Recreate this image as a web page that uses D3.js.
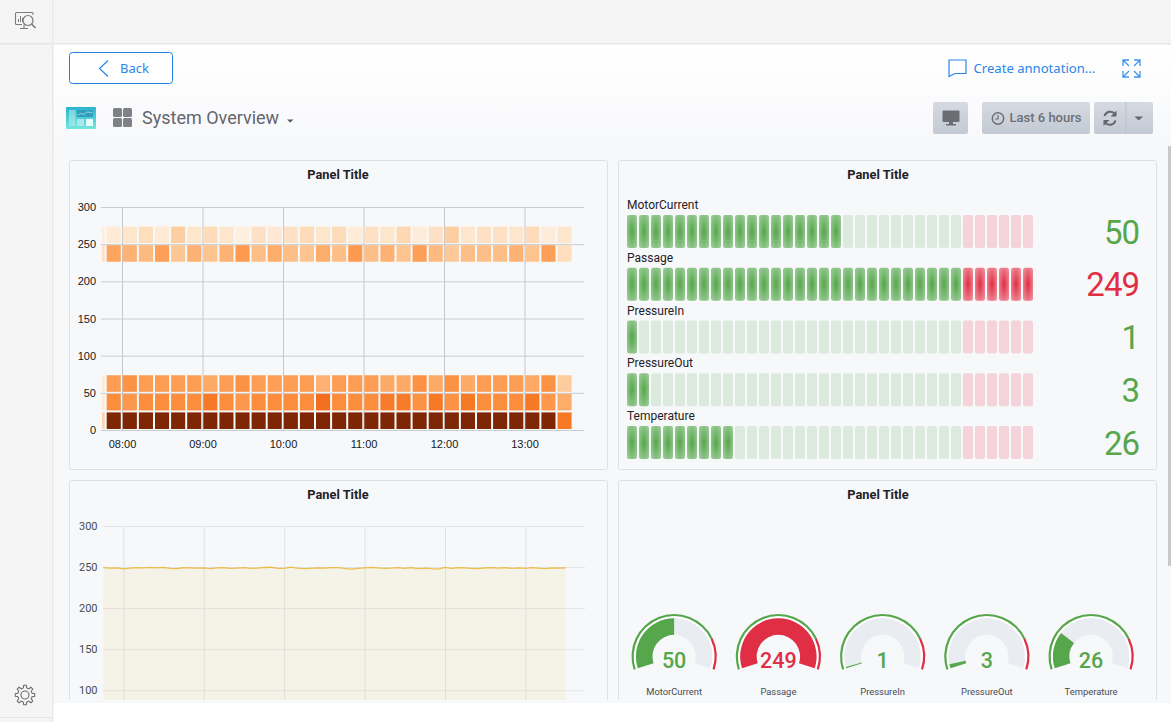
<!DOCTYPE html>
<html>
<head>
<meta charset="utf-8">
<title>System Overview</title>
<script src="https://cdn.jsdelivr.net/npm/d3@7"></script>
<style>
  html, body { margin: 0; padding: 0; background: #fff; overflow: hidden; }
  svg { display: block; }
  text { font-family: Roboto, sans-serif; }
  .heat .tick text { font-family: "Liberation Sans", Arial, sans-serif; font-size: 11px; fill: #15171c; }
  .line .tick text { font-size: 11px; fill: #464c54; }
  .domain { display: none; }
</style>
</head>
<body>
<div id="viz"></div>
<script>
// heatmap: colour strength (0-100) per 12 min bucket, the first bucket is cut by the axis
const heatBuckets = [0, 25, 50, 225, 250];
const heat0 = [22, 100, 100, 100, 100, 100, 100, 100, 100, 100, 100, 100, 100, 100, 100, 100, 100, 100, 100, 100, 100, 100, 100, 100, 100, 100, 100, 100, 100, 57];
const heat25 = [8, 50, 46, 50, 50, 50, 50, 57, 50, 46, 50, 50, 50, 50, 60, 50, 50, 50, 56, 56, 48, 57, 48, 57, 50, 50, 50, 57, 46, 38];
const heat50 = [8, 44, 48, 44, 44, 44, 44, 39, 44, 48, 44, 43, 44, 44, 36, 44, 44, 44, 39, 39, 48, 39, 48, 39, 44, 44, 44, 39, 48, 26];
const heat225 = [16, 41, 36, 33, 43, 28, 36, 29, 36, 45, 31, 38, 31, 29, 38, 31, 45, 31, 36, 29, 43, 33, 27, 31, 31, 31, 36, 29, 43, 17];
const heat250 = [6, 9, 12, 17, 9, 25, 12, 18, 12, 5, 15, 10, 15, 18, 12, 18, 8, 15, 12, 20, 7, 15, 25, 12, 15, 15, 12, 18, 7, 12];
const heatTicks = [0, 50, 100, 150, 200, 250, 300];

// bar gauges and gauges share these
const sensors = ["MotorCurrent", "Passage", "PressureIn", "PressureOut", "Temperature"];
const sensorValues = [50, 249, 1, 3, 26];
const gaugeMax = 100;
const redFrom = 80;
const segmentCount = 34;

// Passage over time, one value per 5 min from 07:45
const passage = [
  249.2, 248.6, 248.9, 247.8, 248.7, 249.2, 248.9, 249.6, 249.0, 249.7, 248.4, 248.0,
  249.4, 249.1, 248.6, 248.9, 248.2, 248.9, 249.2, 248.4, 248.8, 249.2, 248.5, 248.8,
  249.5, 249.8, 248.4, 248.5, 250.0, 248.6, 248.1, 248.5, 248.9, 248.6, 249.2, 249.3,
  248.4, 247.6, 248.3, 248.9, 249.6, 248.9, 248.4, 248.8, 249.2, 248.4, 249.2, 248.0,
  248.7, 248.0, 247.6, 249.5, 248.4, 249.2, 248.9, 248.5, 248.1, 248.9, 249.4, 248.8,
  249.2, 248.4, 248.9, 248.5, 249.4, 248.6, 248.2, 248.9, 248.7, 249.1
];
const lineTicks = [100, 150, 200, 250, 300];

const green = "#56a64b", red = "#e02f44";

const svg = d3.select("#viz").append("svg").attr("width", 1171).attr("height", 722);
const defs = svg.append("defs");

function hhmm(h, m, s) { return new Date(2021, 0, 15, h, m, s || 0); }

function radial(id, mid, edge) {
  const g = defs.append("radialGradient").attr("id", id).attr("r", "70%");
  g.append("stop").attr("offset", "0%").attr("stop-color", mid);
  g.append("stop").attr("offset", "100%").attr("stop-color", edge);
}
radial("litGreen", "#56a64b", "#a3d0a0");
radial("litRed", "#e02f44", "#f09aa5");

const fade = defs.append("linearGradient").attr("id", "pageFade").attr("x2", 0).attr("y2", 1);
fade.append("stop").attr("offset", "0%").attr("stop-color", "#ffffff");
fade.append("stop").attr("offset", "100%").attr("stop-color", "#f7f8fa");

const btn = defs.append("linearGradient").attr("id", "btnFill").attr("x2", 0).attr("y2", 1);
btn.append("stop").attr("offset", "0%").attr("stop-color", "#d6dae1");
btn.append("stop").attr("offset", "100%").attr("stop-color", "#c3cad3");

const teal = defs.append("linearGradient").attr("id", "tealFill").attr("x2", 0).attr("y2", 1);
teal.append("stop").attr("offset", "0%").attr("stop-color", "#2cb4cc");
teal.append("stop").attr("offset", "100%").attr("stop-color", "#74e6df");

// page frame
svg.append("rect").attr("x", 53).attr("y", 44).attr("width", 1118).attr("height", 106).attr("fill", "url(#pageFade)");
svg.append("rect").attr("x", 53).attr("y", 150).attr("width", 1118).attr("height", 553).attr("fill", "#f7f8fa");
svg.append("rect").attr("width", 1171).attr("height", 43).attr("fill", "#f5f5f5");
svg.append("rect").attr("width", 52).attr("height", 722).attr("fill", "#f5f5f5");
svg.append("rect").attr("y", 43).attr("width", 1171).attr("height", 1.5).attr("fill", "#e6e6e6");
svg.append("rect").attr("x", 52).attr("width", 1.5).attr("height", 722).attr("fill", "#e9e9e9");
svg.append("rect").attr("y", 717).attr("width", 52).attr("height", 1).attr("fill", "#e6e6e6");
svg.append("rect").attr("x", 1168).attr("y", 146).attr("width", 3).attr("height", 420).attr("fill", "#c9c9c9");

drawChrome();

// panels, the titles of the right column sit left of the panel centre
const panels = [
  { x: 69.5, y: 160.5, w: 538, h: 309, title: 338 },
  { x: 618.5, y: 160.5, w: 538, h: 309, title: 878 },
  { x: 69.5, y: 480.5, w: 538, h: 240, title: 338 },
  { x: 618.5, y: 480.5, w: 538, h: 240, title: 878 }
];
defs.append("clipPath").attr("id", "pageClip").append("rect").attr("x", 53).attr("y", 0).attr("width", 1118).attr("height", 700);
const panelLayer = svg.append("g").attr("clip-path", "url(#pageClip)");
panels.forEach(p => {
  panelLayer.append("rect").attr("x", p.x).attr("y", p.y).attr("width", p.w).attr("height", p.h)
    .attr("rx", 2).attr("fill", "#f7f8fa").attr("stroke", "#dde0e8");
  panelLayer.append("text").attr("x", p.title).attr("y", p.y + 18)
    .attr("text-anchor", "middle").attr("font-size", 12.8).attr("font-weight", 700).attr("fill", "#1f2126")
    .text("Panel Title");
});

drawHeatmap();
drawBarGauges();
drawLine();
drawGauges();

function gridStyle(axis, colour) {
  axis.selectAll(".tick line").attr("stroke", colour);
}

function drawHeatmap() {
  const x = d3.scaleTime().domain([hhmm(7, 45, 50), hhmm(13, 44, 20)]).range([103, 584]);
  const y = d3.scaleLinear().domain([0, 300]).range([430, 207]);
  const colour = d3.scaleSequential(d3.interpolateOranges).domain([0, 100]);
  const g = svg.append("g").attr("class", "heat");

  const gy = g.append("g").attr("transform", "translate(101,0)")
    .call(d3.axisLeft(y).tickValues(heatTicks).tickSize(-483).tickPadding(5));
  gridStyle(gy, "#c9ccd2");

  const gx = g.append("g").attr("transform", "translate(0,430)")
    .call(d3.axisBottom(x).ticks(d3.timeHour.every(1)).tickFormat(d3.timeFormat("%H:%M")).tickSize(-223).tickPadding(10));
  gx.selectAll(".tick line").attr("stroke", "#c4c7cd");

  defs.append("clipPath").attr("id", "heatClip").append("rect").attr("x", 102).attr("y", 200).attr("width", 482).attr("height", 235);

  const rows = [heat0, heat25, heat50, heat225, heat250];
  const cells = [];
  rows.forEach((row, r) => row.forEach((v, k) => {
    cells.push({ bucket: heatBuckets[r], t: d3.timeMinute.offset(hhmm(7, 35, 50), k * 12), v: v });
  }));

  g.append("g").attr("clip-path", "url(#heatClip)").selectAll("rect").data(cells).join("rect")
    .attr("x", d => x(d.t) + 1)
    .attr("width", d => x(d3.timeMinute.offset(d.t, 12)) - x(d.t) - 2)
    .attr("y", d => y(d.bucket + 25) + 1)
    .attr("height", d => y(d.bucket) - y(d.bucket + 25) - 2)
    .attr("fill", d => colour(d.v));
}

function drawBarGauges() {
  const seg = d3.scaleBand().domain(d3.range(segmentCount)).range([627, 1033]).paddingInner(2 / 12);
  const row = d3.scaleBand().domain(sensors).range([215, 215 + 52.75 * 5]);
  const g = svg.append("g");

  sensors.forEach((name, i) => {
    const top = row(name), v = sensorValues[i];
    g.append("text").attr("x", 627).attr("y", top - 6).attr("font-size", 12).attr("fill", "#1f2126").text(name);
    g.selectAll(null).data(d3.range(segmentCount)).join("rect")
      .attr("x", d => seg(d)).attr("y", top)
      .attr("width", seg.bandwidth()).attr("height", 33).attr("rx", 2)
      .attr("fill", d => {
        const level = d / segmentCount * gaugeMax;
        const isRed = level >= redFrom;
        if (level <= v) return isRed ? "url(#litRed)" : "url(#litGreen)";
        return isRed ? "#f4d3da" : "#dceade";
      });
    g.append("text").attr("x", 1139).attr("y", top + 28.5).attr("text-anchor", "end")
      .attr("font-size", 33).attr("letter-spacing", -1).attr("fill", v >= redFrom ? red : green).text(v);
  });
}

function drawLine() {
  const x = d3.scaleTime().domain([hhmm(7, 44, 50), hhmm(13, 44, 30)]).range([103, 585]);
  const y = d3.scaleLinear().domain([0, 300]).range([772.4, 526]);
  const t = (d, i) => d3.timeMinute.offset(hhmm(7, 45), i * 5);
  const g = svg.append("g").attr("class", "line").attr("clip-path", "url(#pageClip)");

  const gy = g.append("g").attr("transform", "translate(103,0)")
    .call(d3.axisLeft(y).tickValues(lineTicks).tickSize(-482).tickPadding(5.5));
  gridStyle(gy, "#e2e4e8");

  const gx = g.append("g").attr("transform", "translate(0,700)")
    .call(d3.axisBottom(x).ticks(d3.timeHour.every(1)).tickFormat("").tickSize(-174));
  gridStyle(gx, "#e0e2e6");

  g.append("path").datum(passage)
    .attr("fill", "#eab839").attr("fill-opacity", 0.09)
    .attr("d", d3.area().x((d, i) => x(t(d, i))).y0(y(0)).y1(d => y(d)));
  g.append("path").datum(passage)
    .attr("fill", "none").attr("stroke", "#eab839").attr("stroke-opacity", 0.9).attr("stroke-width", 1.3)
    .attr("d", d3.line().x((d, i) => x(t(d, i))).y(d => y(d)));
}

function drawGauges() {
  const cx = d3.scaleBand().domain(sensors).range([622, 1143.2]);
  const sweep = d3.scaleLinear().domain([0, gaugeMax]).range([-0.6 * Math.PI, 0.6 * Math.PI]).clamp(true);
  const cy = 656.5;
  const arc = (r0, r1, a0, a1) => d3.arc()({ innerRadius: r0, outerRadius: r1, startAngle: a0, endAngle: a1 });

  sensors.forEach((name, i) => {
    const v = sensorValues[i];
    const col = v >= redFrom ? red : green;
    const g = svg.append("g").attr("transform", `translate(${cx(name) + cx.bandwidth() / 2},${cy})`);
    g.append("path").attr("d", arc(38.2, 40.6, sweep(0), sweep(gaugeMax))).attr("fill", "#fff");
    g.append("path").attr("d", arc(21.7, 38.2, sweep(0), sweep(gaugeMax))).attr("fill", "#e9edf2");
    g.append("path").attr("d", arc(40.4, 42.6, sweep(0), sweep(redFrom))).attr("fill", green);
    g.append("path").attr("d", arc(40.4, 42.6, sweep(redFrom), sweep(gaugeMax))).attr("fill", red);
    g.append("path").attr("d", arc(21.7, 38.2, sweep(0), sweep(v))).attr("fill", col);
    g.append("text").attr("y", 11.8).attr("text-anchor", "middle").attr("font-size", 21.5)
      .attr("font-weight", 500).attr("fill", col).text(v);
    g.append("text").attr("y", 38.5).attr("text-anchor", "middle").attr("font-size", 9.4)
      .attr("fill", "#464c54").text(name);
  });
}

function drawChrome() {
  const blue = "#2a86e8";
  const line = (sel, colour, w) => sel.attr("fill", "none").attr("stroke", colour).attr("stroke-width", w || 1);

  // sidebar icons
  const top = svg.append("g");
  line(top.append("path").attr("d", "M22 24.5H16.5a1 1 0 0 1-1-1V13.5a1 1 0 0 1 1-1H32a1 1 0 0 1 1 1v1.5M24 24.5v3.5M20 28.5h8"), "#7b7b7b", 1.1);
  line(top.append("path").attr("d", "M18.5 22v-3M20.5 22v-6M22.5 22v-4"), "#7b7b7b", 1);
  line(top.append("circle").attr("cx", 28).attr("cy", 20.5).attr("r", 5), "#7b7b7b", 1.2);
  line(top.append("path").attr("d", "M31.8 24.2L35.5 28"), "#7b7b7b", 1.6);

  const teeth = d3.range(8).flatMap(i => {
    const a = i / 8 * 2 * Math.PI;
    return [-0.24, -0.13, 0.13, 0.24].map((o, j) => {
      const r = (j === 0 || j === 3) ? 7.3 : 9.8;
      return [25 + r * Math.sin(a + o), 695 - r * Math.cos(a + o)];
    });
  });
  line(svg.append("path").attr("d", d3.line().curve(d3.curveLinearClosed)(teeth)), "#6e6e6e", 1.1);
  line(svg.append("circle").attr("cx", 25).attr("cy", 695).attr("r", 4), "#6e6e6e", 1.1);

  // back button and links
  svg.append("rect").attr("x", 69.5).attr("y", 52.5).attr("width", 103).attr("height", 31).attr("rx", 3)
    .attr("fill", "#fff").attr("stroke", "#1f80e6");
  line(svg.append("path").attr("d", "M108 60.5L99.5 68.5L108 76.5"), blue, 1.2);
  svg.append("text").attr("x", 120).attr("y", 73).attr("font-size", 13).attr("fill", blue)
    .style("font-family", "'Noto Sans'").text("Back");
  svg.append("text").attr("x", 973.5).attr("y", 73).attr("font-size", 13.1).attr("fill", blue)
    .style("font-family", "'Noto Sans'").text("Create annotation...");
  line(svg.append("path").attr("d", "M949 60H966V73.5H955L949 76.5Z"), blue, 1.2);
  line(svg.append("path").attr("d", "M1123 66V60H1129M1134 60H1140V66M1123 71V77H1129M1134 77H1140V71M1123 60L1129 66M1140 60L1134 66M1123 77L1129 71M1140 77L1134 71"), "#3f94ec", 1.3);

  // dashboard title
  svg.append("rect").attr("x", 66).attr("y", 107).attr("width", 30).attr("height", 22).attr("rx", 1).attr("fill", "url(#tealFill)");
  svg.append("rect").attr("x", 69).attr("y", 110).attr("width", 6.5).attr("height", 16).attr("fill", "#c5f1ef").attr("fill-opacity", 0.5);
  svg.append("rect").attr("x", 77).attr("y", 110).attr("width", 16).attr("height", 7).attr("fill", "#2f9fbd");
  line(svg.append("path").attr("d", "M78 115L81 113.5L84 114.5L87 112L92 112.5"), "#b7eef0", 0.7);
  svg.append("rect").attr("x", 77).attr("y", 119).attr("width", 7).attr("height", 7).attr("fill", "#a9e7ea");
  svg.append("rect").attr("x", 86).attr("y", 119).attr("width", 7).attr("height", 7).attr("fill", "#e6fbfa");
  [[113, 108], [123, 108], [113, 118], [123, 118]].forEach(p => {
    svg.append("rect").attr("x", p[0]).attr("y", p[1]).attr("width", 9).attr("height", 9).attr("rx", 1.5).attr("fill", "#808186");
  });
  svg.append("text").attr("x", 142).attr("y", 124).attr("font-size", 18).attr("fill", "#63666d").text("System Overview");
  svg.append("path").attr("d", "M287 119.5H293.5L290.2 122.5Z").attr("fill", "#55585e");

  // toolbar buttons
  [[933, 35], [982, 108], [1094, 59]].forEach(b => {
    svg.append("rect").attr("x", b[0]).attr("y", 102).attr("width", b[1]).attr("height", 32).attr("rx", 2).attr("fill", "url(#btnFill)");
  });
  svg.append("rect").attr("x", 1125.5).attr("y", 102).attr("width", 1).attr("height", 32).attr("fill", "#b8bfc8");
  svg.append("rect").attr("x", 942.5).attr("y", 110.5).attr("width", 17).attr("height", 11.5).attr("rx", 1).attr("fill", "#6a6e74");
  svg.append("path").attr("d", "M949 122H953V124H956V125.5H946V124H949Z").attr("fill", "#6a6e74");
  line(svg.append("circle").attr("cx", 998).attr("cy", 118.5).attr("r", 5.7), "#6b6f76", 1.5);
  line(svg.append("path").attr("d", "M998 115V119H995"), "#6b6f76", 1.2);
  svg.append("text").attr("x", 1009.5).attr("y", 122).attr("font-size", 13).attr("font-weight", 500).attr("fill", "#6c7078").text("Last 6 hours");
  line(svg.append("path").attr("d", "M1104.5 116a6 6 0 0 1 10.5-2M1115.5 120.5a6 6 0 0 1-10.5 2"), "#63676d", 2);
  svg.append("path").attr("d", "M1116.5 110.5V116.5H1110.5ZM1103.5 126V120H1109.5Z").attr("fill", "#63676d");
  svg.append("path").attr("d", "M1134.5 116.5H1143L1138.7 120.5Z").attr("fill", "#63676d");
}
</script>
</body>
</html>
